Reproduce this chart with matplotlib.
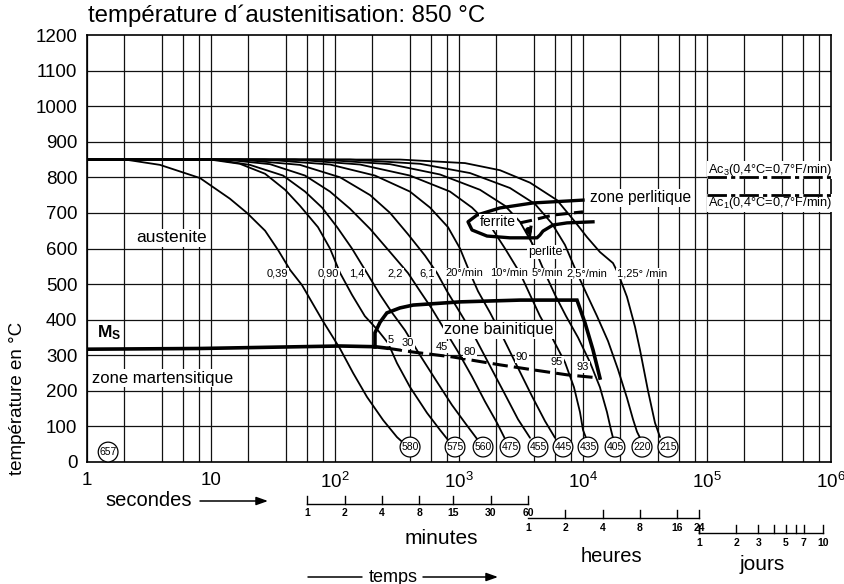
import matplotlib.pyplot as plt

plt.rcParams['font.family'] = ['Liberation Sans', 'DejaVu Sans']
plt.rcParams['mathtext.fontset'] = 'custom'
plt.rcParams['mathtext.rm'] = 'Liberation Sans'
plt.rcParams['mathtext.bf'] = 'Liberation Sans:bold'
plt.rcParams['mathtext.it'] = 'Liberation Sans:italic'

# %% data: cooling curves (time in s, temperature in °C)
c1_t = [1, 2.03, 3.88, 8.15, 14.2, 19.5, 27.3, 34.7, 43.4, 54.2, 78.6, 110, 140, 181, 244, 316, 360]
c1_T = [850, 850, 835, 798, 740, 700, 650, 596, 540, 497, 400, 318, 250, 183, 118, 70, 52]
c2_t = [1, 9.83, 17.1, 27.3, 39.6, 52.2, 72.9, 91.1, 110, 137, 174, 222, 268, 316, 402, 552, 703, 815]
c2_T = [850, 850, 838, 810, 765, 720, 660, 600, 531, 470, 410, 370, 334, 278, 211, 138, 90, 62]
c3_t = [1, 10.8, 20.6, 38.1, 57.3, 78.6, 104, 137, 181, 231, 288, 367, 485, 665, 878, 1118, 1397]
c3_T = [850, 850, 835, 805, 760, 715, 660, 600, 531, 470, 420, 370, 300, 225, 160, 110, 65]
c4_t = [1, 12.9, 29.9, 57.3, 91.1, 132, 192, 278, 388, 485, 606, 771, 981, 1273, 1620, 2025, 2350]
c4_T = [850, 850, 837, 805, 760, 712, 655, 590, 531, 480, 430, 370, 310, 240, 170, 110, 65]
c5_t = [1, 17.1, 52.2, 110, 192, 278, 388, 532, 665, 800, 1019, 1346, 1778, 2350, 2991, 3738]
c5_T = [850, 850, 835, 800, 750, 700, 640, 580, 531, 480, 420, 350, 270, 190, 120, 68]
c6_t = [1, 27.3, 91.1, 210, 402, 584, 815, 1019, 1227, 1423, 1778, 2263, 2936, 3879, 4937, 5946]
c6_T = [850, 850, 836, 805, 760, 715, 660, 600, 531, 480, 420, 350, 270, 185, 115, 68]
c7_t = [1, 47.6, 159, 402, 846, 1273, 1778, 2350, 3104, 3738, 4500, 5623, 7157, 8459, 9458, 10000, 10573]
c7_T = [850, 850, 836, 805, 760, 715, 665, 600, 531, 470, 410, 350, 280, 210, 140, 90, 68]
c8_t = [1, 75.7, 278, 703, 1477, 2350, 3104, 3953, 4937, 5946, 7295, 9115, 11390, 13700, 15615, 16820, 17455]
c8_T = [850, 850, 837, 808, 765, 720, 675, 610, 531, 470, 410, 350, 280, 210, 140, 90, 68]
c9_t = [1, 132, 485, 1227, 2578, 4102, 5623, 7157, 8946, 10770, 12970, 15908, 19155, 22630, 25310, 27260, 28820]
c9_T = [850, 850, 838, 812, 770, 725, 670, 610, 531, 470, 410, 340, 260, 180, 120, 85, 68]
c10_t = [1, 334, 1118, 2140, 3738, 6170, 8620, 10770, 13700, 17455, 19155, 22630, 26270, 28820, 33440, 38070, 41780]
c10_T = [850, 850, 840, 820, 785, 736, 675, 632, 590, 559, 531, 464, 380, 315, 200, 110, 70]

curves = [(c1_t, c1_T), (c2_t, c2_T), (c3_t, c3_T), (c4_t, c4_T), (c5_t, c5_T),
          (c6_t, c6_T), (c7_t, c7_T), (c8_t, c8_T), (c9_t, c9_T), (c10_t, c10_T)]

# cooling rate labels
rate_labels = ['0,39', '0,90', '1,4', '2,2', '6,1', '20°/min', '10°/min', '5°/min', '2,5°/min', '1,25° /min']
rate_t = [34.1, 87.8, 150, 305, 552, 1097, 2531, 5124, 10770, 29910]
rate_T = 530

# hardness (HV) at the end of each curve
hv_labels = ['580', '575', '560', '475', '455', '445', '435', '405', '220', '215']
hv_t = [403, 929, 1563, 2578, 4336, 6897, 10973, 18118, 29910, 48490]
hv_T = 42

# bainite proportion labels (%)
bain_pct = ['5', '30', '45', '80', '90', '95', '93']
bain_pct_t = [283, 388, 729, 1227, 3222, 6170, 10000]
bain_pct_T = [343, 334, 323, 309, 295, 281, 267]

# transformation lines
ms_t = [1, 8.15, 110, 210, 262]
ms_T = [317, 319, 326, 324, 320]
bs_t = [210, 210, 231, 262, 334, 426, 1019, 3104, 8946, 10378, 12040, 13700]
bs_T = [323, 363, 393, 419, 433, 441, 450, 455, 455, 391, 315, 236]
bf_t = [262, 426, 895, 2140, 3953, 7430, 13700]
bf_T = [320, 309, 295, 273, 259, 245, 236]
ps_t = [10000, 3953, 2140, 1397, 1182, 1273, 1682, 2578, 4256, 4500, 4757, 5730, 7430, 12040]
ps_T = [736, 728, 714, 694, 675, 652, 635, 630, 630, 638, 649, 666, 672, 675]
pd_t = [3104, 3953, 5730, 10000]
pd_T = [672, 680, 694, 703]
ac_t = [1e5, 1e6]
ac3_T = 800
ac1_T = 750

# secondary time scales
min_ticks = [1, 2, 4, 8, 15, 30, 60]
hour_ticks = [1, 2, 4, 8, 16, 24]
day_ticks = [1, 2, 3, 4, 5, 6, 7, 10]
day_labels = ['1', '2', '3', '', '5', '', '7', '10']

# %% figure
W, H = 845, 584
fig = plt.figure(figsize=(W / 100, H / 100), dpi=100)
ax = fig.add_axes([87 / W, 1 - 462 / H, 744 / W, 427 / H])
ax.set_xscale('log')
ax.set_xlim(1, 1e6)
ax.set_ylim(0, 1200)
ax.minorticks_off()

# grid
for k in range(6):
    for m in (1, 2, 4, 6, 8):
        ax.axvline(m * 10 ** k, color='#111111', lw=0.9, zorder=0.5)
for T in range(100, 1200, 100):
    ax.axhline(T, color='#111111', lw=0.9, zorder=0.5)

ax.set_xticks([1, 10, 1e2, 1e3, 1e4, 1e5, 1e6])
ax.set_xticklabels(['1', '10', r'$10^2$', r'$10^3$', r'$10^4$', r'$10^5$', r'$10^6$'])
ax.set_yticks(range(0, 1201, 100))
ax.tick_params(length=0, labelsize=13.5, pad=7)
for s in ax.spines.values():
    s.set_linewidth(1.2)

# cooling curves
for t, T in curves:
    ax.plot(t, T, color='k', lw=1.3, zorder=2, solid_capstyle='round')

# transformation lines
ax.plot(ms_t, ms_T, color='k', lw=2.6, zorder=3)
ax.plot(bs_t, bs_T, color='k', lw=2.6, zorder=3, solid_joinstyle='miter')
ax.plot(bf_t, bf_T, color='k', lw=2.2, ls=(0, (5, 2)), zorder=3)
ax.plot(ps_t, ps_T, color='k', lw=2.4, zorder=3)
ax.plot(pd_t, pd_T, color='k', lw=2.2, ls=(0, (4, 2)), zorder=3)
ax.plot([3800, 3720], [660, 638], color='k', lw=2.2, zorder=3)
ax.plot([3602], [652], 'o', color='k', ms=4, zorder=3)
ax.plot([3602, 3953], [652, 604], color='k', lw=0.8, zorder=3)
ax.plot(ac_t, [ac3_T] * 2, color='k', lw=2, ls=(0, (7, 1.5, 1.5, 1.5)), zorder=5)
ax.plot(ac_t, [ac1_T] * 2, color='k', lw=2, ls=(0, (7, 1.5, 1.5, 1.5)), zorder=5)

white = dict(boxstyle='square,pad=0.08', fc='white', ec='none')
ring = dict(boxstyle='circle,pad=0.12', fc='white', ec='k', lw=0.9)

for lab, t in zip(rate_labels, rate_t):
    ax.text(t, rate_T, lab, fontsize=8, ha='center', va='center', bbox=white, zorder=4)
for lab, t in zip(hv_labels, hv_t):
    ax.text(t, hv_T, lab, fontsize=7.5, ha='center', va='center', zorder=4, bbox=ring)
ax.text(1.48, 28, '657', fontsize=7.5, ha='center', va='center', zorder=4, bbox=ring)
for lab, t, T in zip(bain_pct, bain_pct_t, bain_pct_T):
    ax.text(t, T, lab, fontsize=8, ha='center', va='center', bbox=white, zorder=4)

ax.text(4.85, 630, 'austenite', fontsize=12.5, ha='center', va='center', bbox=white, zorder=4)
ax.text(1.1, 236, 'zone martensitique', fontsize=12, ha='left', va='center', bbox=white, zorder=4)
ax.text(2102, 371, 'zone bainitique', fontsize=11.7, ha='center', va='center', bbox=white, zorder=4)
ax.text(11390, 742, 'zone perlitique', fontsize=11.2, ha='left', va='center', bbox=white, zorder=4)
ax.text(2063, 675, 'ferrite', fontsize=10, ha='center', va='center', bbox=white, zorder=4)
ax.text(4937, 590, 'perlite', fontsize=9, ha='center', va='center', bbox=white, zorder=4)
ax.text(1.2, 363, r'$\mathbf{M_S}$', fontsize=12.5, ha='left', va='center', zorder=4)
ax.text(1.01e5, 821, 'Ac$_3$(0,4°C=0,7°F/min)', fontsize=9.2, ha='left', va='center', bbox=white, zorder=4)
ax.text(1.01e5, 727, 'Ac$_1$(0,4°C=0,7°F/min)', fontsize=9.2, ha='left', va='center', bbox=white, zorder=4)


# secondary time scales under the axis
def ay(ypx):
    return (462 - ypx) / 427


tr = ax.get_xaxis_transform()
kw = dict(color='k', lw=1, transform=tr, clip_on=False)
lab_kw = dict(fontsize=7.5, fontweight='bold', ha='center', va='center', transform=tr)

ax.plot([60, 3600], [ay(504)] * 2, **kw)
for m in min_ticks:
    ax.plot([m * 60] * 2, [ay(504), ay(496)], **kw)
    ax.text(m * 60, ay(513), str(m), **lab_kw)

ax.plot([3600, 86400], [ay(518)] * 2, **kw)
for h in hour_ticks[1:]:
    ax.plot([h * 3600] * 2, [ay(518), ay(510)], **kw)
for h in hour_ticks:
    ax.text(h * 3600, ay(528), str(h), **lab_kw)

ax.plot([86400, 864000], [ay(533)] * 2, **kw)
ax.plot([86400] * 2, [ay(533), ay(525)], **kw)
for d, lab in zip(day_ticks, day_labels):
    ax.plot([d * 86400] * 2, [ay(533), ay(525)], **kw)
    ax.text(d * 86400, ay(543), lab, **lab_kw)


def fx(x):
    return x / W


def fy(y):
    return 1 - y / H


fig.text(fx(88), fy(16), 'température d´austenitisation: 850 °C', fontsize=17.3, ha='left', va='center')
fig.text(fx(18), fy(398), 'température en °C', fontsize=13.5, rotation=90, ha='center', va='center')
fig.text(fx(105), fy(501), 'secondes', fontsize=14.5, ha='left', va='center')
fig.text(fx(441), fy(538), 'minutes', fontsize=15, ha='center', va='center')
fig.text(fx(611), fy(557), 'heures', fontsize=14.5, ha='center', va='center')
fig.text(fx(762), fy(565), 'jours', fontsize=15, ha='center', va='center')
fig.text(fx(393), fy(577), 'temps', fontsize=13, ha='center', va='center')

arrow = dict(arrowstyle='-|>,head_length=0.7,head_width=0.25', lw=1.1, color='k',
             shrinkA=0, shrinkB=0)
ax.annotate('', xy=(268, H - 501), xytext=(200, H - 501), xycoords='figure pixels', arrowprops=arrow)
ax.annotate('', xy=(498, H - 577), xytext=(423, H - 577), xycoords='figure pixels', arrowprops=arrow)
ax.annotate('', xy=(362, H - 577), xytext=(308, H - 577), xycoords='figure pixels',
            arrowprops=dict(arrowstyle='-', lw=1.1, color='k', shrinkA=0, shrinkB=0))

fig.savefig('out.png', dpi=100)
